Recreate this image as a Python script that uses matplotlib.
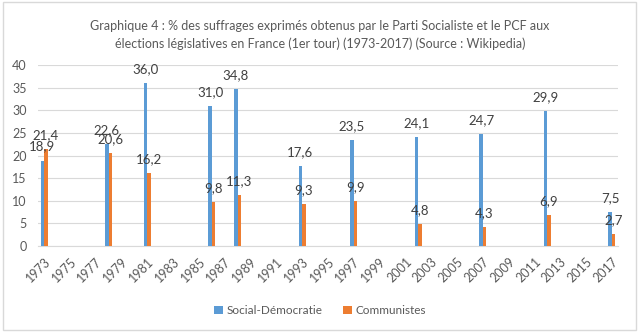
import numpy as np
import matplotlib
matplotlib.use('Agg')
import matplotlib.pyplot as plt
from matplotlib.patches import Rectangle

plt.rcParams['font.family'] = ['Lato', 'DejaVu Sans']

# every year of the category axis, 1973 -> 2017
all_years = list(range(1973, 2018))
election_years = [1973, 1978, 1981, 1986, 1988, 1993, 1997, 2002, 2007, 2012, 2017]
social_dem = [18.9, 22.6, 36.0, 31.0, 34.8, 17.6, 23.5, 24.1, 24.7, 29.9, 7.5]
communistes = [21.4, 20.6, 16.2, 9.8, 11.3, 9.3, 9.9, 4.8, 4.3, 6.9, 2.7]

blue = '#5B9BD5'
orange = '#ED7D31'
grey_txt = '#595959'

fig = plt.figure(figsize=(6.4, 3.32), dpi=100)
ax = fig.add_axes([0.059, 0.259, 0.907, 0.545])

idx = np.array([all_years.index(y) for y in election_years])
w = 0.27
b1 = ax.bar(idx - w / 2, social_dem, width=w, color=blue, label='Social-Démocratie', zorder=3)
b2 = ax.bar(idx + w / 2, communistes, width=w, color=orange, label='Communistes', zorder=3)

for bars, vals in [(b1, social_dem), (b2, communistes)]:
    for rect, v in zip(bars, vals):
        ax.annotate(f'{v:.1f}'.replace('.', ','),
                    (rect.get_x() + rect.get_width() / 2, v),
                    xytext=(0, 10), textcoords='offset points',
                    ha='center', va='center', fontsize=9.5, color='#404040', zorder=4)

ax.set_xlim(-0.5, len(all_years) - 0.5)
ax.set_ylim(0, 40)
ax.set_yticks(range(0, 41, 5))
ax.set_xticks(range(0, len(all_years), 2))
ax.set_xticklabels([str(y) for y in all_years[::2]], rotation=45, ha='right',
                   rotation_mode='anchor', fontsize=9, color=grey_txt)
ax.tick_params(axis='y', labelsize=9, labelcolor=grey_txt, length=0, pad=8)
ax.tick_params(axis='x', length=0, pad=7)
ax.grid(axis='y', color='#d9d9d9', linewidth=0.8, zorder=0)
for s in ['top', 'right', 'left']:
    ax.spines[s].set_visible(False)
ax.spines['bottom'].set_color('#d9d9d9')

fig.text(0.5, 0.94, 'Graphique 4 : % des suffrages exprimés obtenus par le Parti Socialiste et le PCF aux\n'
         'élections législatives en France (1er tour) (1973-2017) (Source : Wikipedia)',
         ha='center', va='top', fontsize=9, color=grey_txt, linespacing=1.5)

fig.legend(handles=[b1, b2], loc='center', bbox_to_anchor=(0.5, 0.065), ncol=2,
           frameon=False, fontsize=8.5, handlelength=0.7, handleheight=0.7,
           handletextpad=0.3, columnspacing=1.8, labelcolor=grey_txt)

fig.patches.append(Rectangle((0.004, 0.006), 0.99, 0.988, transform=fig.transFigure,
                             fill=False, edgecolor='#d9d9d9', linewidth=1))

fig.savefig('out.png', dpi=100)
